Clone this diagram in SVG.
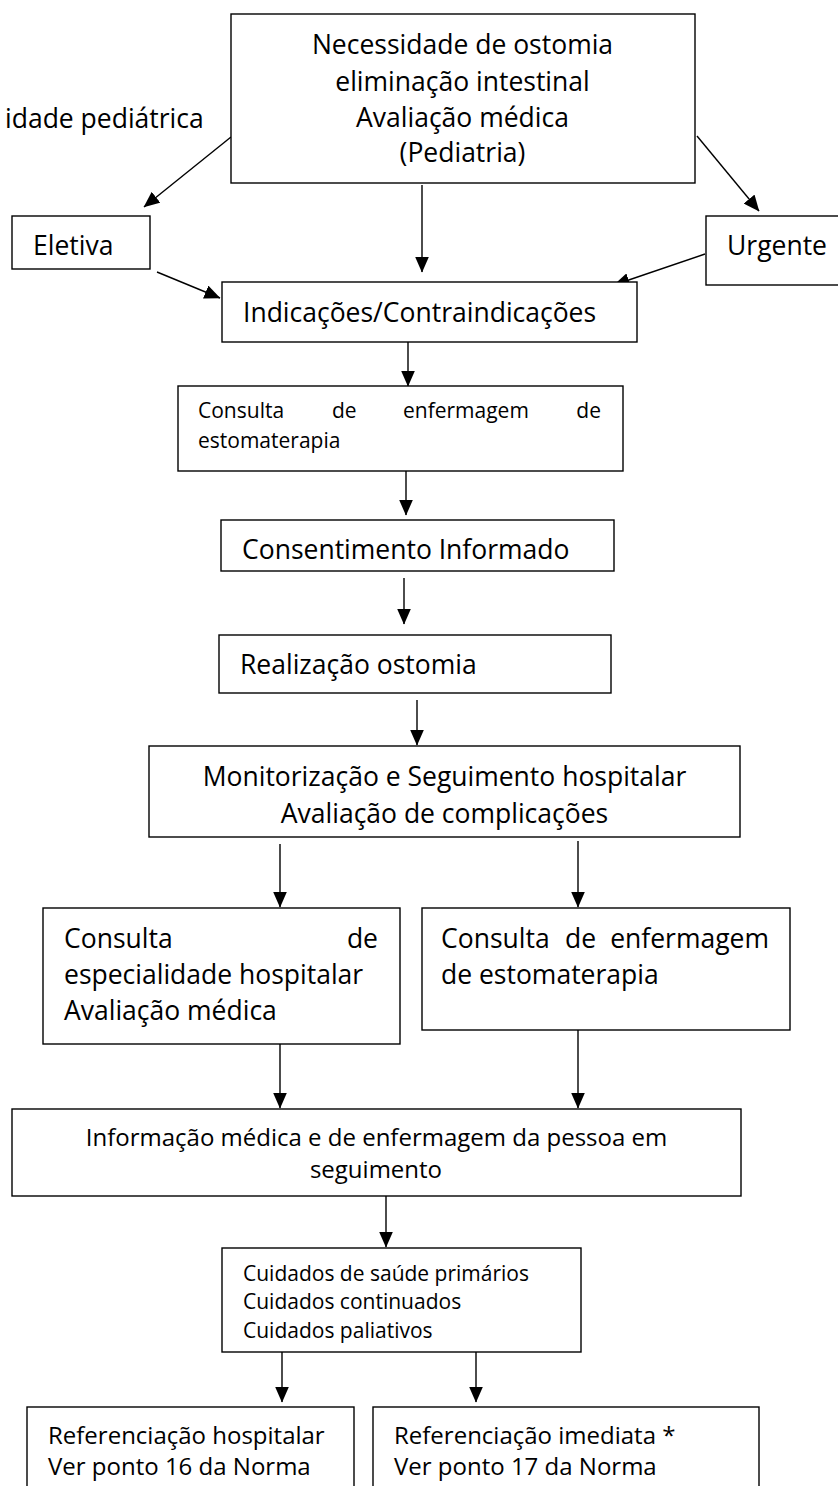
<svg xmlns="http://www.w3.org/2000/svg" width="838" height="1486" viewBox="0 0 838 1486">
<style>
.box{fill:#fff;stroke:#000;stroke-width:1.4}
.t{font-family:"Open Sans","Noto Sans",sans-serif;fill:#000}
.c{text-anchor:middle}
.m{font-size:26.5px}
.s{font-size:24px}
.xs{font-size:21px}
.ln{stroke:#000;stroke-width:1.4;fill:none;marker-end:url(#ah)}
</style>
<defs>
<marker id="ah" markerUnits="userSpaceOnUse" markerWidth="16" markerHeight="14" viewBox="0 0 16 14" refX="15.5" refY="7" orient="auto">
<path d="M0,0 L16,7 L0,14 Z" fill="#000"/>
</marker>
</defs>
<rect width="838" height="1486" fill="#fff"/>
<g id="connectors">
<line class="ln" x1="231" y1="137" x2="144" y2="207"/>
<line class="ln" x1="697" y1="136" x2="759" y2="211"/>
<line class="ln" x1="422" y1="185" x2="422" y2="272"/>
<line class="ln" x1="157" y1="272" x2="220" y2="298"/>
<line class="ln" x1="705" y1="254" x2="614" y2="285"/>
<line class="ln" x1="408" y1="342" x2="408" y2="386"/>
<line class="ln" x1="406" y1="471" x2="406" y2="515"/>
<line class="ln" x1="404" y1="578" x2="404" y2="624"/>
<line class="ln" x1="417" y1="700" x2="417" y2="745"/>
<line class="ln" x1="280" y1="844" x2="280" y2="907"/>
<line class="ln" x1="578" y1="841" x2="578" y2="907"/>
<line class="ln" x1="280" y1="1044" x2="280" y2="1108"/>
<line class="ln" x1="578" y1="1030" x2="578" y2="1108"/>
<line class="ln" x1="386" y1="1196" x2="386" y2="1247"/>
<line class="ln" x1="282" y1="1352" x2="282" y2="1402"/>
<line class="ln" x1="476" y1="1352" x2="476" y2="1402"/>
</g>
<g id="label-pediatrica"><text class="t m" x="5" y="128">idade pediátrica</text></g>
<g id="n-top">
<rect class="box" x="231" y="14" width="464" height="169"/>
<text class="t c m" x="462.5" y="54">Necessidade de ostomia</text>
<text class="t c m" x="462.5" y="91">eliminação intestinal</text>
<text class="t c m" x="462.5" y="127">Avaliação médica</text>
<text class="t c m" x="462.5" y="162">(Pediatria)</text>
</g>
<g id="n-eletiva">
<rect class="box" x="12" y="216" width="138" height="53"/>
<text class="t m" x="33" y="255">Eletiva</text>
</g>
<g id="n-urgente">
<rect class="box" x="706" y="216" width="140" height="69"/>
<text class="t m" x="727" y="255">Urgente</text>
</g>
<g id="n-indic">
<rect class="box" x="222" y="282" width="415" height="60"/>
<text class="t m" x="243" y="322">Indicações/Contraindicações</text>
</g>
<g id="n-consulta1">
<rect class="box" x="178" y="386" width="445" height="85"/>
<text class="t xs" x="198" y="418">Consulta</text>
<text class="t xs" x="332" y="418">de</text>
<text class="t xs" x="403" y="418">enfermagem</text>
<text class="t xs" x="601" y="418" text-anchor="end">de</text>
<text class="t xs" x="198" y="448">estomaterapia</text>
</g>
<g id="n-consent">
<rect class="box" x="221" y="520" width="393" height="51"/>
<text class="t m" x="242" y="559">Consentimento Informado</text>
</g>
<g id="n-realiz">
<rect class="box" x="219" y="635" width="392" height="58"/>
<text class="t m" x="240" y="674">Realização ostomia</text>
</g>
<g id="n-monit">
<rect class="box" x="149" y="746" width="591" height="91"/>
<text class="t c m" x="444.5" y="786">Monitorização e Seguimento hospitalar</text>
<text class="t c m" x="444.5" y="823">Avaliação de complicações</text>
</g>
<g id="n-espec">
<rect class="box" x="43" y="908" width="357" height="136"/>
<text class="t m" x="64" y="948">Consulta</text>
<text class="t m" x="378" y="948" text-anchor="end">de</text>
<text class="t m" x="64" y="984">especialidade hospitalar</text>
<text class="t m" x="64" y="1020">Avaliação médica</text>
</g>
<g id="n-estoma">
<rect class="box" x="422" y="908" width="368" height="122"/>
<text class="t m" x="441" y="948">Consulta</text>
<text class="t m" x="565" y="948">de</text>
<text class="t m" x="769" y="948" text-anchor="end">enfermagem</text>
<text class="t m" x="441" y="984">de estomaterapia</text>
</g>
<g id="n-info">
<rect class="box" x="12" y="1109" width="729" height="87"/>
<text class="t c s" x="376.5" y="1146">Informação médica e de enfermagem da pessoa em</text>
<text class="t c s" x="376" y="1178">seguimento</text>
</g>
<g id="n-cuidados">
<rect class="box" x="222" y="1248" width="359" height="104"/>
<text class="t xs" x="243" y="1281">Cuidados de saúde primários</text>
<text class="t xs" x="243" y="1309">Cuidados continuados</text>
<text class="t xs" x="243" y="1338">Cuidados paliativos</text>
</g>
<g id="n-ref-hosp">
<rect class="box" x="27" y="1407" width="327" height="100"/>
<text class="t s" x="48" y="1444">Referenciação hospitalar</text>
<text class="t s" x="48" y="1475">Ver ponto 16 da Norma</text>
</g>
<g id="n-ref-imed">
<rect class="box" x="373" y="1407" width="386" height="100"/>
<text class="t s" x="394" y="1444">Referenciação imediata *</text>
<text class="t s" x="394" y="1475">Ver ponto 17 da Norma</text>
</g>
</svg>
